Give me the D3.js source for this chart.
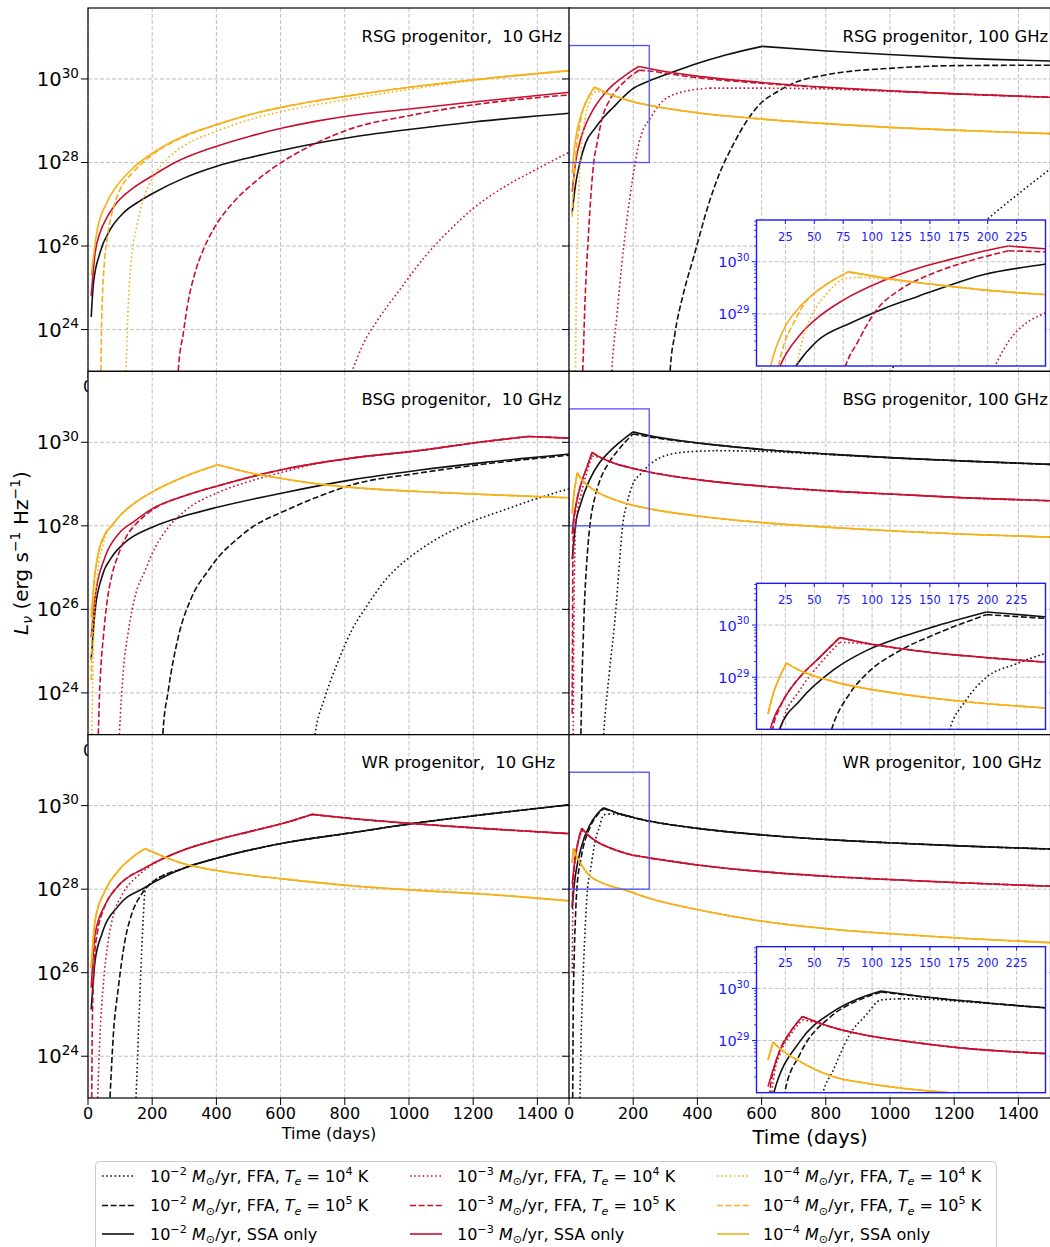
<!DOCTYPE html>
<html>
<head>
<meta charset="utf-8">
<script src="https://cdn.jsdelivr.net/npm/d3@7"></script>
<style>
  body { margin: 0; background: #fff; }
  text { font-family: "DejaVu Sans", sans-serif; }
</style>
</head>
<body>
<svg id="chart"></svg>
<script>
// tick values
const xTicks = [0, 200, 400, 600, 800, 1000, 1200, 1400];
const yTickExps = [24, 26, 28, 30];
const insetXTicks = [25, 50, 75, 100, 125, 150, 175, 200, 225];
const insetYTickExps = [29, 30];
const massLoss = ["−2", "−3", "−4"];
const colors = ["#111111", "#c8102e", "#f5b01a"];

// curves: [days, log10 L_nu]
// RSG, 10 GHz
const rsg10_m2_ffa4 = [];   // below the axis
const rsg10_m2_ffa5 = [];   // below the axis
const rsg10_m2_ssa = [[10,24.3],[17,25.11],[37,25.83],[69,26.39],[110,26.79],[162,27.08],[204,27.27],[297,27.62],[401,27.91],[505,28.12],[609,28.3],[712,28.46],[816,28.6],[1000,28.79],[1200,28.97],[1500,29.18]];
const rsg10_m3_ffa4 = [[800,22.6],[822,23.0],[860,23.7],[900,24.2],[972,24.96],[1050,25.75],[1128,26.39],[1200,26.9],[1283,27.35],[1400,27.85],[1500,28.25]];
const rsg10_m3_ffa5 = [[278,22.6],[281,23.0],[297,23.92],[313,24.71],[333,25.35],[359,25.91],[390,26.39],[453,27.05],[515,27.5],[588,27.93],[681,28.35],[816,28.8],[1000,29.12],[1200,29.38],[1500,29.62]];
const rsg10_m3_ssa = [[10,24.8],[22,25.83],[37,26.31],[58,26.67],[89,27.03],[141,27.39],[198,27.67],[271,28.0],[401,28.39],[505,28.63],[609,28.83],[712,28.99],[816,29.12],[1000,29.28],[1200,29.45],[1500,29.68]];
const rsg10_m4_ffa4 = [[115,22.6],[118,23.0],[126,24.7],[136,25.75],[152,26.47],[172,27.1],[198,27.59],[245,28.07],[297,28.39],[401,28.75],[505,29.03],[609,29.23],[816,29.52],[1000,29.75],[1200,29.96],[1500,30.19]];
const rsg10_m4_ffa5 = [[38,22.6],[40,23.0],[42,24.0],[45,24.8],[50,25.5],[60,26.2],[75,26.8],[100,27.35],[141,27.77],[198,28.17],[297,28.61],[401,28.9],[505,29.15],[609,29.33],[816,29.6],[1000,29.8],[1200,29.98],[1500,30.2]];
const rsg10_m4_ssa = [[10,25.3],[27,26.31],[58,27.03],[89,27.43],[141,27.87],[198,28.21],[297,28.63],[401,28.91],[505,29.15],[609,29.33],[712,29.48],[816,29.6],[1000,29.8],[1200,29.98],[1500,30.2]];

// RSG, 100 GHz
const rsg100_m2_ffa4 = [[990,22.6],[1010,23.1],[1050,24.0],[1100,24.9],[1200,25.95],[1301,26.63],[1400,27.25],[1500,27.85]];
const rsg100_m2_ffa5 = [[312,22.6],[315,23.0],[330,23.9],[356,24.85],[387,25.7],[439,27.1],[467,27.7],[513,28.45],[550,28.95],[595,29.4],[650,29.7],[699,29.9],[803,30.1],[1010,30.26],[1218,30.32],[1500,30.33]];
const rsg100_m2_ssa = [[10,26.8],[20,27.45],[35,28.03],[52,28.47],[81,28.82],[110,29.1],[139,29.33],[167,29.55],[196,29.75],[249,29.95],[315,30.14],[387,30.34],[491,30.58],[602,30.78],[803,30.67],[1010,30.58],[1218,30.5],[1500,30.43]];
const rsg100_m3_ffa4 = [[130,22.6],[133,23.0],[150,24.4],[165,25.6],[180,26.6],[200,27.7],[219,28.5],[233,28.82],[249,29.01],[283,29.4],[335,29.65],[439,29.78],[595,29.78],[803,29.76],[1010,29.7],[1218,29.64],[1500,29.56]];
const rsg100_m3_ffa5 = [[40,22.6],[42.6,23.0],[50,24.7],[60,26.2],[70,27.4],[77,28.0],[87,28.44],[104,29.08],[124,29.46],[153,29.78],[182,30.0],[218,30.21],[249,30.19],[387,30.04],[595,29.9],[803,29.79],[1010,29.71],[1218,29.64],[1500,29.56]];
const rsg100_m3_ssa = [[10,27.3],[20.4,28.0],[37.7,28.6],[52,28.91],[74,29.25],[110,29.64],[139,29.87],[167,30.04],[196,30.2],[218,30.3],[249,30.25],[387,30.08],[595,29.92],[803,29.8],[1010,29.71],[1218,29.64],[1500,29.56]];
const rsg100_m4_ffa4 = [[18,22.6],[20,23.0],[23,25.0],[27,26.5],[31,27.4],[35,28.0],[40.6,28.57],[46,28.89],[52,29.14],[61,29.39],[77,29.68],[90,29.7],[113,29.66],[139,29.6],[167,29.53],[196,29.46],[249,29.37],[400,29.19],[600,29.04],[800,28.93],[1000,28.84],[1250,28.76],[1500,28.69]];
const rsg100_m4_ffa5 = [[10,26.7],[14,27.5],[19,28.0],[23.3,28.38],[32,28.82],[45,29.3],[52,29.43],[66.5,29.65],[79.5,29.8],[113,29.68],[139,29.6],[167,29.53],[196,29.46],[249,29.37],[400,29.19],[600,29.04],[800,28.93],[1000,28.84],[1250,28.76],[1500,28.69]];
const rsg100_m4_ssa = [[10,27.75],[12.3,28.0],[23.3,28.69],[37.7,29.14],[52,29.43],[66.5,29.65],[79.5,29.81],[113,29.68],[139,29.6],[167,29.53],[196,29.46],[249,29.37],[400,29.19],[600,29.04],[800,28.93],[1000,28.84],[1250,28.76],[1500,28.69]];

// BSG, 10 GHz
const bsg10_m2_ffa4 = [[700,22.6],[707,23.0],[738,23.89],[780,24.77],[821,25.49],[873,26.13],[925,26.69],[977,27.09],[1029,27.4],[1133,27.88],[1195,28.1],[1289,28.36],[1393,28.64],[1500,28.89]];
const bsg10_m2_ffa5 = [[230,22.6],[233,23.0],[250,24.05],[281,25.33],[323,26.29],[375,26.93],[406,27.25],[458,27.64],[510,27.96],[614,28.36],[718,28.7],[821,28.98],[1029,29.26],[1237,29.48],[1500,29.69]];
const bsg10_m2_ssa = [[10,24.8],[22,25.97],[43,26.77],[74,27.25],[115,27.6],[198,27.96],[302,28.24],[406,28.45],[614,28.8],[821,29.1],[1029,29.33],[1237,29.52],[1500,29.72]];
const bsg10_m3_ffa4 = [[95,22.6],[97.6,23.0],[110,24.53],[126,25.49],[146,26.29],[178,26.93],[209,27.48],[250,27.96],[302,28.36],[406,28.8],[510,29.08],[614,29.3],[718,29.5],[821,29.62],[1029,29.8],[1237,30.02],[1372,30.14],[1500,30.1]];
const bsg10_m3_ffa5 = [[30,22.6],[32,23.0],[36,24.0],[40,24.6],[48,25.35],[58,26.1],[74,26.8],[94,27.3],[120,27.75],[150,28.05],[200,28.38],[302,28.72],[406,28.96],[614,29.36],[821,29.62],[1029,29.8],[1237,30.02],[1372,30.14],[1500,30.1]];
const bsg10_m3_ssa = [[10,25.33],[22,26.29],[53,27.25],[94.5,27.8],[146,28.12],[198,28.4],[302,28.72],[406,28.96],[614,29.36],[821,29.62],[1029,29.8],[1237,30.02],[1372,30.14],[1500,30.1]];
const bsg10_m4_ffa4 = [[11,22.6],[12,23.0],[15,24.5],[20,25.8],[30,26.9],[45,27.5],[60,27.85],[74,28.0],[94.5,28.2],[146,28.55],[198,28.8],[302,29.18],[404,29.46],[510,29.26],[614,29.12],[718,29.0],[821,28.92],[1029,28.82],[1237,28.75],[1500,28.67]];
const bsg10_m4_ffa5 = [[10,24.3],[12,25.3],[15,26.1],[20,26.7],[30,27.25],[45,27.65],[53,27.8],[74,28.0],[94.5,28.2],[146,28.55],[198,28.8],[302,29.18],[404,29.46],[510,29.26],[614,29.12],[718,29.0],[821,28.92],[1029,28.82],[1237,28.75],[1500,28.67]];
const bsg10_m4_ssa = [[10,25.8],[16.6,26.5],[32,27.35],[53,27.8],[74,28.0],[94.5,28.2],[146,28.55],[198,28.8],[302,29.18],[404,29.46],[510,29.26],[614,29.12],[718,29.0],[821,28.92],[1029,28.82],[1237,28.75],[1500,28.67]];

// BSG, 100 GHz
const bsg100_m2_ffa4 = [[105,22.6],[108,23.0],[126,24.5],[146,26.0],[158,27.2],[167,28.0],[181,28.55],[199,29.0],[224,29.25],[249,29.45],[281,29.62],[354,29.76],[458,29.8],[614,29.78],[821,29.7],[1029,29.62],[1237,29.55],[1500,29.47]];
const bsg100_m2_ffa5 = [[35,22.6],[37,23.0],[40,24.2],[44,25.2],[48,26.1],[55,27.1],[65,28.0],[80.5,28.68],[95,29.06],[124,29.51],[152,29.8],[199,30.2],[249,30.13],[406,29.98],[614,29.82],[821,29.71],[1029,29.62],[1237,29.55],[1500,29.47]];
const bsg100_m2_ssa = [[10,27.2],[20,28.0],[37.4,28.55],[66,29.13],[95,29.51],[124,29.76],[152,29.96],[199,30.25],[249,30.16],[406,29.98],[614,29.82],[821,29.71],[1029,29.62],[1237,29.55],[1500,29.47]];
const bsg100_m3_ffa4 = [[12,22.6],[13,23.0],[15,25.5],[18,27.3],[22,28.1],[37.4,28.75],[54.6,29.25],[72,29.67],[90,29.65],[124,29.55],[152,29.47],[181,29.41],[249,29.29],[406,29.1],[614,28.94],[821,28.83],[1029,28.75],[1237,28.67],[1500,28.6]];
const bsg100_m3_ffa5 = [[10,23.5],[11,25.5],[12,27.0],[14,28.0],[20,28.4],[30,28.8],[37.4,29.0],[54.6,29.38],[72,29.76],[95,29.65],[124,29.55],[152,29.47],[181,29.41],[249,29.29],[406,29.1],[614,28.94],[821,28.83],[1029,28.75],[1237,28.67],[1500,28.6]];
const bsg100_m3_ssa = [[10,27.8],[12,28.0],[23,28.55],[37.4,29.0],[54.6,29.38],[72,29.76],[95,29.65],[124,29.55],[152,29.47],[181,29.41],[249,29.29],[406,29.1],[614,28.94],[821,28.83],[1029,28.75],[1237,28.67],[1500,28.6]];
const bsg100_m4_ssa = [[10,28.3],[15,28.72],[20,29.0],[25.9,29.27],[37.4,29.13],[66,28.92],[95,28.78],[124,28.68],[181,28.53],[249,28.41],[406,28.23],[614,28.07],[821,27.96],[1029,27.87],[1237,27.8],[1500,27.73]];
const bsg100_m4_ffa4 = bsg100_m4_ssa;   // hidden under the SSA curve
const bsg100_m4_ffa5 = bsg100_m4_ssa;

// WR, 10 GHz
const wr10_m2_ffa4 = [[147,22.6],[149.5,23.0],[157,24.52],[165,26.12],[172,27.3],[178,27.96],[190,28.1],[302,28.51],[406,28.75],[614,29.11],[821,29.35],[1029,29.59],[1237,29.79],[1500,30.02]];
const wr10_m2_ffa5 = [[66,22.6],[68.5,23.0],[79,24.52],[94.5,25.64],[115,26.76],[136,27.4],[167,27.88],[190,28.1],[302,28.51],[406,28.75],[614,29.11],[821,29.35],[1029,29.59],[1237,29.79],[1500,30.02]];
const wr10_m2_ssa = [[10,25.12],[22,26.28],[43,26.92],[94.5,27.6],[177.6,28.04],[302,28.51],[406,28.75],[614,29.11],[821,29.35],[1029,29.59],[1237,29.79],[1500,30.02]];
const wr10_m3_ffa4 = [[28,22.6],[30,23.0],[37.4,24.52],[47.8,25.72],[63,26.76],[80,27.4],[105,27.85],[157,28.33],[200,28.58],[302,28.95],[406,29.19],[510,29.39],[614,29.59],[697,29.79],[821,29.69],[1029,29.56],[1237,29.45],[1500,29.33]];
const wr10_m3_ffa5 = [[10,22.8],[11.4,23.0],[13,24.5],[16,25.6],[20,26.35],[30,27.0],[45,27.45],[60,27.72],[94.5,28.08],[177.6,28.51],[302,28.95],[406,29.19],[510,29.39],[614,29.59],[697,29.79],[821,29.69],[1029,29.56],[1237,29.45],[1500,29.33]];
const wr10_m3_ssa = [[10,25.64],[22,26.92],[53,27.62],[94.5,28.08],[177.6,28.51],[302,28.95],[406,29.19],[510,29.39],[614,29.59],[697,29.79],[821,29.69],[1029,29.56],[1237,29.45],[1500,29.33]];
const wr10_m4_ssa = [[10,26.12],[22,27.24],[53,27.96],[94.5,28.44],[136,28.75],[177.6,28.97],[302,28.6],[406,28.44],[614,28.24],[821,28.08],[1029,27.97],[1237,27.88],[1500,27.72]];
const wr10_m4_ffa4 = wr10_m4_ssa;
const wr10_m4_ffa5 = wr10_m4_ssa;

// WR, 100 GHz
const wr100_m2_ffa4 = [[31,22.6],[34,23.0],[38,24.5],[43,25.7],[50,27.0],[57.5,27.99],[66,28.41],[80.5,29.11],[94.8,29.49],[107.8,29.78],[123.6,29.8],[152,29.79],[175,29.75],[195,29.72],[249,29.63],[302,29.56],[406,29.45],[614,29.29],[821,29.18],[1029,29.1],[1237,29.03],[1500,28.96]];
const wr100_m2_ffa5 = [[10,22.8],[11.4,23.0],[13,25.0],[16,26.3],[20,27.3],[24.4,28.0],[37.4,28.73],[66,29.49],[89,29.78],[107.8,29.93],[152,29.82],[195,29.73],[249,29.63],[302,29.56],[406,29.45],[614,29.29],[821,29.18],[1029,29.1],[1237,29.03],[1500,28.96]];
const wr100_m2_ssa = [[10,27.55],[15,28.0],[37.4,28.98],[66,29.55],[89,29.81],[107.8,29.95],[152,29.82],[195,29.73],[249,29.63],[302,29.56],[406,29.45],[614,29.29],[821,29.18],[1029,29.1],[1237,29.03],[1500,28.96]];
const wr100_m3_ffa4 = [[10,26.0],[11,27.0],[12,27.6],[15,28.3],[20,28.72],[30,29.13],[39.7,29.4],[50,29.35],[66,29.25],[95,29.1],[124,29.0],[152,28.92],[181,28.85],[249,28.75],[300,28.69],[400,28.58],[600,28.42],[800,28.31],[1000,28.23],[1200,28.16],[1500,28.07]];
const wr100_m3_ffa5 = [[10,27.6],[12,28.1],[15,28.45],[20,28.8],[30,29.19],[39.7,29.46],[66,29.25],[95,29.1],[124,29.0],[152,28.92],[181,28.85],[249,28.75],[300,28.69],[400,28.58],[600,28.42],[800,28.31],[1000,28.23],[1200,28.16],[1500,28.07]];
const wr100_m3_ssa = [[10,28.12],[20,28.8],[30,29.19],[39.7,29.46],[66,29.25],[95,29.1],[124,29.0],[152,28.92],[181,28.85],[249,28.75],[300,28.69],[400,28.58],[600,28.42],[800,28.31],[1000,28.23],[1200,28.16],[1500,28.07]];
const wr100_m4_ssa = [[10,28.63],[14.4,28.97],[20,28.85],[37.4,28.6],[66,28.31],[95,28.18],[124,28.09],[170,27.99],[250,27.78],[406,27.5],[614,27.22],[821,27.04],[1029,26.92],[1237,26.82],[1500,26.72]];
const wr100_m4_ffa4 = wr100_m4_ssa;
const wr100_m4_ffa5 = wr100_m4_ssa;

const panels = [
  {row: 0, col: 0, title: "RSG progenitor,  10 GHz", inset: false,
   curves: [rsg10_m2_ffa4, rsg10_m2_ffa5, rsg10_m2_ssa, rsg10_m3_ffa4, rsg10_m3_ffa5, rsg10_m3_ssa, rsg10_m4_ffa4, rsg10_m4_ffa5, rsg10_m4_ssa]},
  {row: 0, col: 1, title: "RSG progenitor, 100 GHz", inset: true,
   curves: [rsg100_m2_ffa4, rsg100_m2_ffa5, rsg100_m2_ssa, rsg100_m3_ffa4, rsg100_m3_ffa5, rsg100_m3_ssa, rsg100_m4_ffa4, rsg100_m4_ffa5, rsg100_m4_ssa]},
  {row: 1, col: 0, title: "BSG progenitor,  10 GHz", inset: false,
   curves: [bsg10_m2_ffa4, bsg10_m2_ffa5, bsg10_m2_ssa, bsg10_m3_ffa4, bsg10_m3_ffa5, bsg10_m3_ssa, bsg10_m4_ffa4, bsg10_m4_ffa5, bsg10_m4_ssa]},
  {row: 1, col: 1, title: "BSG progenitor, 100 GHz", inset: true,
   curves: [bsg100_m2_ffa4, bsg100_m2_ffa5, bsg100_m2_ssa, bsg100_m3_ffa4, bsg100_m3_ffa5, bsg100_m3_ssa, bsg100_m4_ffa4, bsg100_m4_ffa5, bsg100_m4_ssa]},
  {row: 2, col: 0, title: "WR progenitor,  10 GHz", inset: false,
   curves: [wr10_m2_ffa4, wr10_m2_ffa5, wr10_m2_ssa, wr10_m3_ffa4, wr10_m3_ffa5, wr10_m3_ssa, wr10_m4_ffa4, wr10_m4_ffa5, wr10_m4_ssa]},
  {row: 2, col: 1, title: "WR progenitor, 100 GHz", inset: true,
   curves: [wr100_m2_ffa4, wr100_m2_ffa5, wr100_m2_ssa, wr100_m3_ffa4, wr100_m3_ffa5, wr100_m3_ssa, wr100_m4_ffa4, wr100_m4_ffa5, wr100_m4_ssa]}
];

// layout
const width = 1050, height = 1247;
const colX = [88, 569];
const rowY = [8, 371.33, 734.67];
const panelW = 481.5, panelH = 363.33;
const dashes = ["1.6,2.6", "6,2.6", null];

const svg = d3.select("#chart").attr("width", width).attr("height", height);
svg.append("rect").attr("width", width).attr("height", height).attr("fill", "#fff");

// write text with super/subscripts
function rich(sel, parts, size) {
  let shift = 0;
  parts.forEach(p => {
    const ts = sel.append("tspan").text(p.t);
    let target = 0;
    if (p.sup) target = -size * 0.42;
    if (p.sub) target = size * 0.22;
    if (target - shift !== 0) ts.attr("dy", target - shift);
    shift = target;
    if (p.sup || p.sub) ts.attr("font-size", size * 0.7);
    if (p.it) ts.attr("font-style", "italic");
  });
}

function drawCurves(g, curves, x, y, lw) {
  const line = d3.line().x(d => x(d[0])).y(d => y(d[1])).curve(d3.curveMonotoneX);
  curves.forEach((pts, i) => {
    if (!pts.length) return;
    const data = pts.map(d => [d[0], Math.pow(10, d[1])]);
    const k = d3.maxIndex(pts, d => d[1]);
    const segs = (k > 0 && k < pts.length - 1) ? [data.slice(0, k + 1), data.slice(k)] : [data];
    segs.forEach(s => {
      g.append("path")
        .attr("d", line(s))
        .attr("fill", "none")
        .attr("stroke", colors[Math.floor(i / 3)])
        .attr("stroke-width", lw)
        .attr("stroke-dasharray", dashes[i % 3]);
    });
  });
}

function drawPanel(p, idx) {
  const x0 = colX[p.col], y0 = rowY[p.row];
  const x = d3.scaleLinear().domain([0, 1500]).range([x0, x0 + panelW]);
  const y = d3.scaleLog().domain([1e23, 5e31]).range([y0 + panelH, y0]);
  const g = svg.append("g");

  g.append("rect").attr("x", x0).attr("y", y0).attr("width", panelW).attr("height", panelH).attr("fill", "#fff");

  // grid
  g.selectAll(".gx").data(xTicks).enter().append("line")
    .attr("x1", d => x(d)).attr("x2", d => x(d)).attr("y1", y0).attr("y2", y0 + panelH)
    .attr("stroke", "#b0b0b0").attr("stroke-width", 0.8).attr("stroke-dasharray", "4,2");
  g.selectAll(".gy").data(yTickExps).enter().append("line")
    .attr("x1", x0).attr("x2", x0 + panelW).attr("y1", d => y(Math.pow(10, d))).attr("y2", d => y(Math.pow(10, d)))
    .attr("stroke", "#b0b0b0").attr("stroke-width", 0.8).attr("stroke-dasharray", "4,2");

  const cid = "clip" + idx;
  svg.append("clipPath").attr("id", cid).append("rect")
    .attr("x", x0).attr("y", y0).attr("width", panelW).attr("height", panelH);
  const cg = g.append("g").attr("clip-path", "url(#" + cid + ")");
  drawCurves(cg, p.curves, x, y, 1.6);

  if (p.inset) {
    cg.append("rect")
      .attr("x", x(0)).attr("y", y(6.31e30))
      .attr("width", x(250) - x(0)).attr("height", y(1e28) - y(6.31e30))
      .attr("fill", "none").attr("stroke", "#5050ff").attr("stroke-width", 1.3);
  }

  // frame
  g.append("rect").attr("x", x0).attr("y", y0).attr("width", panelW).attr("height", panelH)
    .attr("fill", "none").attr("stroke", "#000").attr("stroke-width", 1.2);

  // y ticks
  yTickExps.forEach(e => {
    const yy = y(Math.pow(10, e));
    g.append("line").attr("x1", x0 - 7).attr("x2", x0).attr("y1", yy).attr("y2", yy)
      .attr("stroke", "#000").attr("stroke-width", 1);
    if (p.col === 0) {
      const t = g.append("text").attr("x", x0 - 9).attr("y", yy + 7)
        .attr("text-anchor", "end").attr("font-size", 19.5).attr("fill", "#000");
      rich(t, [{t: "10"}, {t: String(e), sup: true}], 19.5);
    }
  });

  // x ticks; upper rows only show the "0" that peeks out on the left
  const yb = y0 + panelH;
  const bottomRow = p.row === 2;
  xTicks.forEach(v => {
    g.append("line").attr("x1", x(v)).attr("x2", x(v)).attr("y1", yb).attr("y2", yb + 7)
      .attr("stroke", "#000").attr("stroke-width", 1);
    if (bottomRow || (p.col === 0 && v === 0)) {
      g.append("text").attr("x", x(v)).attr("y", yb + 21).attr("text-anchor", "middle")
        .attr("font-size", 16).attr("fill", "#000").text(v);
    }
  });

  // title
  g.append("text").attr("x", x0 + 273.5).attr("y", y0 + 33.5)
    .attr("font-size", 16.4).attr("fill", "#000").style("white-space", "pre").text(p.title);

  if (p.inset) drawInset(p, idx, x0, y0);
}

function drawInset(p, idx, x0, y0) {
  const ix = d3.scaleLinear().domain([0, 250]).range([x0 + 187.5, x0 + 476.5]);
  const iy = d3.scaleLog().domain([1e28, 6.31e30]).range([y0 + 358, y0 + 212]);
  const g = svg.append("g");
  const L = ix(0), R = ix(250), T = iy(6.31e30), B = iy(1e28);
  const blue = "#1a1aff";

  g.append("rect").attr("x", L).attr("y", T).attr("width", R - L).attr("height", B - T).attr("fill", "#fff");

  g.selectAll(".igx").data(insetXTicks).enter().append("line")
    .attr("x1", d => ix(d)).attr("x2", d => ix(d)).attr("y1", T).attr("y2", B)
    .attr("stroke", "#b0b0b0").attr("stroke-width", 0.8).attr("stroke-dasharray", "4,2");
  g.selectAll(".igy").data(insetYTickExps).enter().append("line")
    .attr("x1", L).attr("x2", R).attr("y1", d => iy(Math.pow(10, d))).attr("y2", d => iy(Math.pow(10, d)))
    .attr("stroke", "#b0b0b0").attr("stroke-width", 0.8).attr("stroke-dasharray", "4,2");

  const cid = "iclip" + idx;
  svg.append("clipPath").attr("id", cid).append("rect")
    .attr("x", L).attr("y", T).attr("width", R - L).attr("height", B - T);
  const cg = g.append("g").attr("clip-path", "url(#" + cid + ")");
  drawCurves(cg, p.curves, ix, iy, 1.6);

  g.append("rect").attr("x", L).attr("y", T).attr("width", R - L).attr("height", B - T)
    .attr("fill", "none").attr("stroke", blue).attr("stroke-width", 1.4);

  // top ticks with labels inside
  insetXTicks.forEach(v => {
    g.append("line").attr("x1", ix(v)).attr("x2", ix(v)).attr("y1", T).attr("y2", T + 4)
      .attr("stroke", blue).attr("stroke-width", 1);
    g.append("text").attr("x", ix(v)).attr("y", T + 20.5).attr("text-anchor", "middle")
      .attr("font-size", 11.5).attr("fill", blue).text(v);
  });

  // y ticks, major and minor
  const minors = [];
  [28, 29, 30].forEach(e => d3.range(2, 10).forEach(m => {
    const v = m * Math.pow(10, e);
    if (v < 6.31e30) minors.push(v);
  }));
  minors.forEach(v => {
    g.append("line").attr("x1", L - 2.5).attr("x2", L).attr("y1", iy(v)).attr("y2", iy(v))
      .attr("stroke", blue).attr("stroke-width", 0.8);
  });
  insetYTickExps.forEach(e => {
    const yy = iy(Math.pow(10, e));
    g.append("line").attr("x1", L - 4.5).attr("x2", L).attr("y1", yy).attr("y2", yy)
      .attr("stroke", blue).attr("stroke-width", 1);
    const t = g.append("text").attr("x", L - 7).attr("y", yy + 5.5)
      .attr("text-anchor", "end").attr("font-size", 14.5).attr("fill", blue);
    rich(t, [{t: "10"}, {t: String(e), sup: true}], 14.5);
  });
}

panels.forEach(drawPanel);

// axis labels
svg.append("text").attr("x", 329).attr("y", 1139).attr("text-anchor", "middle")
  .attr("font-size", 16).text("Time (days)");
svg.append("text").attr("x", 810).attr("y", 1144).attr("text-anchor", "middle")
  .attr("font-size", 19.5).text("Time (days)");
const yl = svg.append("text").attr("transform", "translate(28,553) rotate(-90)")
  .attr("text-anchor", "middle").attr("font-size", 20).style("white-space", "pre");
rich(yl, [{t: "L", it: true}, {t: "ν", sub: true, it: true}, {t: " (erg s"}, {t: "−1", sup: true},
          {t: " Hz"}, {t: "−1", sup: true}, {t: ")"}], 20);

// legend
const legend = svg.append("g");
legend.append("rect").attr("x", 95.5).attr("y", 1161.5).attr("width", 901).attr("height", 100)
  .attr("rx", 4).attr("fill", "#fff").attr("stroke", "#cccccc").attr("stroke-width", 1);
const legLineX = [102, 410, 717];
const legTextX = [150, 457, 763];
const legRowY = [1176, 1205.5, 1234];
for (let i = 0; i < 9; i++) {
  const c = Math.floor(i / 3), r = i % 3;
  legend.append("line").attr("x1", legLineX[c]).attr("x2", legLineX[c] + 32)
    .attr("y1", legRowY[r]).attr("y2", legRowY[r])
    .attr("stroke", colors[c]).attr("stroke-width", 1.6).attr("stroke-dasharray", dashes[r]);
  const t = legend.append("text").attr("x", legTextX[c]).attr("y", legRowY[r] + 5.6)
    .attr("font-size", 16).style("white-space", "pre");
  const parts = [{t: "10"}, {t: massLoss[c], sup: true}, {t: " "}, {t: "M", it: true}, {t: "⊙", sub: true}];
  if (r < 2) {
    parts.push({t: "/yr, FFA, "}, {t: "T", it: true}, {t: "e", sub: true, it: true},
               {t: " = 10"}, {t: r === 0 ? "4" : "5", sup: true}, {t: " K"});
  } else {
    parts.push({t: "/yr, SSA only"});
  }
  rich(t, parts, 16);
}
</script>
</body>
</html>
